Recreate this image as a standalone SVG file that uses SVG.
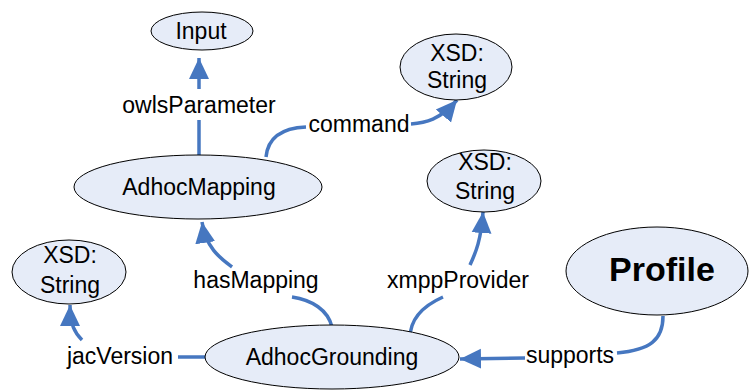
<svg xmlns="http://www.w3.org/2000/svg" width="749" height="390" viewBox="0 0 749 390">
  <style>
    .node ellipse { fill: #E6ECF8; stroke: #000; stroke-width: 1; }
    .node text { font-family: "Liberation Sans", Arial, sans-serif; font-size: 23px; fill: #000; text-anchor: middle; }
    .node text.big { font-size: 34px; font-weight: bold; }
    .edge { fill: none; stroke: #4677C0; stroke-width: 3.5; }
    .lbl { font-family: "Liberation Sans", Arial, sans-serif; font-size: 23px; fill: #000; text-anchor: middle; }
  </style>
  <defs>
    <marker id="arrow" markerUnits="userSpaceOnUse" markerWidth="22" markerHeight="22" refX="21" refY="10" orient="auto" viewBox="0 0 22 20">
      <path d="M0,0 L21,10 L0,20 Z" fill="#4677C0"/>
    </marker>
  </defs>

  <rect width="749" height="390" fill="#fff"/>

  <!-- connectors: each one is split around its label -->
  <g id="connectors">
    <!-- owlsParameter -->
    <path class="edge" d="M199 156 L199 120"/>
    <path class="edge" d="M199 89 L199 58" marker-end="url(#arrow)"/>
    <text class="lbl" x="199" y="113">owlsParameter</text>
    <!-- command -->
    <path class="edge" d="M266 157 C 268 137, 282 128, 306 127"/>
    <path class="edge" d="M411 124 C 425 123, 440 120, 457 100" marker-end="url(#arrow)"/>
    <text class="lbl" x="359" y="132">command</text>
    <!-- hasMapping -->
    <path class="edge" d="M332 327 C 328 310, 312 300, 292 297"/>
    <path class="edge" d="M232 267 C 220 258, 206 248, 202 222" marker-end="url(#arrow)"/>
    <text class="lbl" x="256" y="288">hasMapping</text>
    <!-- xmppProvider -->
    <path class="edge" d="M410 338 C 410 318, 425 305, 443 297"/>
    <path class="edge" d="M470 265 C 476 252, 481 240, 483 212" marker-end="url(#arrow)"/>
    <text class="lbl" x="458" y="288">xmppProvider</text>
    <!-- jacVersion -->
    <path class="edge" d="M206 357 L178 357"/>
    <path class="edge" d="M82 340 C 75 333, 70 325, 70 305" marker-end="url(#arrow)"/>
    <text class="lbl" x="120" y="364">jacVersion</text>
    <!-- supports -->
    <path class="edge" d="M663 316 C 663 340, 650 350, 617 353"/>
    <path class="edge" d="M525 358 L460 359" marker-end="url(#arrow)"/>
    <text class="lbl" x="570" y="363">supports</text>
  </g>

  <g id="input" class="node">
    <ellipse cx="202" cy="31" rx="51" ry="19"/>
    <text x="201" y="39">Input</text>
  </g>
  <g id="xsd-command" class="node">
    <ellipse cx="456" cy="67" rx="56" ry="33"/>
    <text x="457" y="61">XSD:</text>
    <text x="457" y="88">String</text>
  </g>
  <g id="adhoc-mapping" class="node">
    <ellipse cx="198" cy="187" rx="124" ry="32"/>
    <text x="199" y="195">AdhocMapping</text>
  </g>
  <g id="xsd-xmpp" class="node">
    <ellipse cx="484" cy="181" rx="57" ry="31"/>
    <text x="485" y="170">XSD:</text>
    <text x="485" y="199">String</text>
  </g>
  <g id="xsd-jac" class="node">
    <ellipse cx="69" cy="272" rx="57" ry="32"/>
    <text x="70" y="263">XSD:</text>
    <text x="70" y="293">String</text>
  </g>
  <g id="adhoc-grounding" class="node">
    <ellipse cx="332" cy="357" rx="127" ry="32"/>
    <text x="332" y="365">AdhocGrounding</text>
  </g>
  <g id="profile" class="node">
    <ellipse cx="657" cy="271" rx="91" ry="44"/>
    <text class="big" x="662" y="281">Profile</text>
  </g>
</svg>
